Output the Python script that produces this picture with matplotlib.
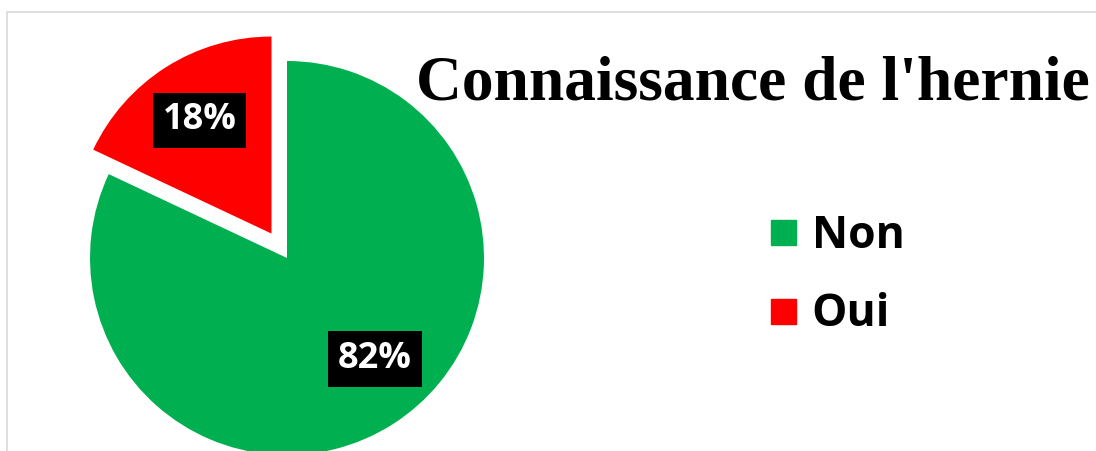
import matplotlib
matplotlib.use("Agg")
import numpy as np
import matplotlib.pyplot as plt
from matplotlib.patches import Rectangle
from matplotlib.lines import Line2D

# survey answers
labels = ["Non", "Oui"]
shares = [82, 18]
colors = ["#00B050", "#FF0000"]
explode = [0, 0.147]
title = "Connaissance de l'hernie"

W, H = 1096, 451
fig = plt.figure(figsize=(W / 100, H / 100), dpi=100)

# light frame around the chart area (runs off the right/bottom edges)
fig.patches.append(Rectangle((7 / W, -0.1), 1.2, (H - 12) / H + 0.1,
                             transform=fig.transFigure, fill=False,
                             edgecolor="#d9d9d9", linewidth=1.2))

ax = fig.add_axes([0, 0, 1, 1])
wedges, _, autotexts = ax.pie(
    shares, colors=colors, explode=explode, startangle=90,
    counterclock=False, radius=1, autopct="%.0f%%", pctdistance=0.68,
    wedgeprops=dict(linewidth=0),
    textprops=dict(color="white", fontsize=26, fontweight="bold",
                   family="Open Sans"),
)
for t in autotexts:
    t.set_bbox(dict(facecolor="black", edgecolor="none", pad=7))

# the big slice's label sits a little further round, towards the right
x, y = autotexts[0].get_position()
r = np.hypot(x, y)
autotexts[0].set_position((r * np.cos(np.radians(-49)), r * np.sin(np.radians(-49))))

# axes in units of the pie radius, pie centre placed at (287, 258) px
# (pie() resets the limits, so set them afterwards)
r_px = 197.0
cx, cy = 287.0, 258.0
ax.set_xlim(-cx / r_px, (W - cx) / r_px)
ax.set_ylim(-(H - cy) / r_px, cy / r_px)
ax.set_aspect("equal")
ax.axis("off")

fig.text(416 / W, 1 - 100 / H, title, family="Liberation Serif",
         fontweight="bold", fontsize=45.7, ha="left", va="baseline")

handles = [Line2D([], [], linestyle="none", marker="s", markersize=18,
                  markerfacecolor=c, markeredgecolor=c) for c in colors]
fig.legend(handles, labels, loc="upper left",
           bbox_to_anchor=(761 / W, 1 - 214 / H), frameon=False,
           prop=dict(family="Open Sans", weight="bold", size=32),
           handlelength=1.0, handletextpad=0.14, labelspacing=0.75,
           borderpad=0, borderaxespad=0)

fig.savefig("out.png", dpi=100)
